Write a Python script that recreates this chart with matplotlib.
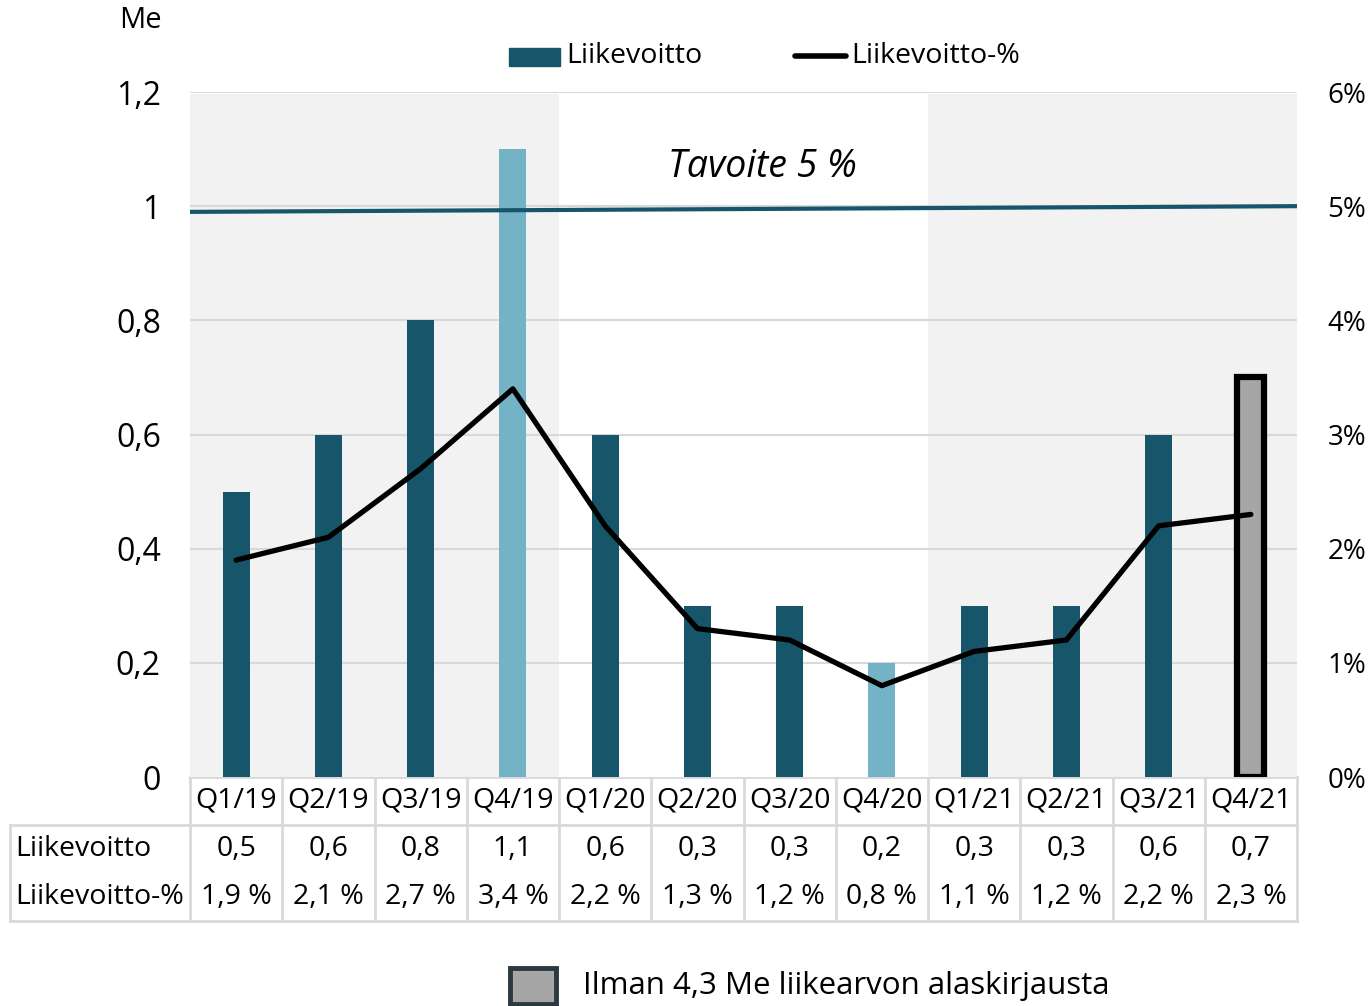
import matplotlib
matplotlib.use("Agg")
import matplotlib.pyplot as plt
from matplotlib.lines import Line2D
from matplotlib.patches import Rectangle
from matplotlib.transforms import blended_transform_factory

plt.rcParams["font.family"] = ["Open Sans", "DejaVu Sans"]

# ---- data --------------------------------------------------------------
quarters = ["Q1/19", "Q2/19", "Q3/19", "Q4/19", "Q1/20", "Q2/20",
            "Q3/20", "Q4/20", "Q1/21", "Q2/21", "Q3/21", "Q4/21"]
ebit = [0.5, 0.6, 0.8, 1.1, 0.6, 0.3, 0.3, 0.2, 0.3, 0.3, 0.6, 0.7]
ebit_pct = [1.9, 2.1, 2.7, 3.4, 2.2, 1.3, 1.2, 0.8, 1.1, 1.2, 2.2, 2.3]
ebit_txt = ["0,5", "0,6", "0,8", "1,1", "0,6", "0,3", "0,3", "0,2", "0,3", "0,3", "0,6", "0,7"]
pct_txt = ["1,9 %", "2,1 %", "2,7 %", "3,4 %", "2,2 %", "1,3 %", "1,2 %", "0,8 %",
           "1,1 %", "1,2 %", "2,2 %", "2,3 %"]
target_pct = [4.95, 5.0]          # target line, start and end (right axis)
left_ticks = ["0", "0,2", "0,4", "0,6", "0,8", "1", "1,2"]
right_ticks = ["0%", "1%", "2%", "3%", "4%", "5%", "6%"]

DARK = "#17566a"
LIGHT = "#74b3c6"
GREY = "#a6a6a6"
BAND = "#f2f2f2"
GRID = "#d9d9d9"

W, H = 1370, 1006
fig = plt.figure(figsize=(W / 100, H / 100), dpi=100)


def fx(px):
    return px / W


def fy(py):
    return 1 - py / H


ax = fig.add_axes([fx(190), fy(777), fx(1297) - fx(190), fy(92) - fy(777)])
n = len(quarters)
x = list(range(n))
ax.set_xlim(-0.5, n - 0.5)
ax.set_ylim(0, 1.2)
scale = 1.2 / 6  # percent -> Me axis

# shaded year bands
ax.axvspan(-0.5, 3.5, ymin=0, ymax=0.997, color=BAND, lw=0, zorder=0)
ax.axvspan(7.5, 11.5, ymin=0, ymax=0.997, color=BAND, lw=0, zorder=0)

for v in [0.2, 0.4, 0.6, 0.8, 1.0, 1.2]:
    ax.axhline(v, color=GRID, lw=1.5, zorder=1)

colors = [DARK] * n
colors[3] = LIGHT
colors[7] = LIGHT
ax.bar(x[:-1], ebit[:-1], width=0.29, color=colors[:-1], zorder=2)
ax.bar(x[-1], ebit[-1], width=0.29, color=GREY, edgecolor="black", lw=4.5, zorder=2)

ax.plot(x, [p * scale for p in ebit_pct], color="black", lw=3.8, zorder=4,
        solid_capstyle="round")
ax.plot([-0.5, n - 0.5], [t * scale for t in target_pct], color=DARK, lw=3, zorder=3)
ax.text(5.7, 1.068, "Tavoite 5 %", ha="center", va="center", fontsize=27, style="italic")

for s in ax.spines.values():
    s.set_visible(False)
ax.set_xticks([])
ax.set_yticks([0, 0.2, 0.4, 0.6, 0.8, 1.0, 1.2])
ax.set_yticklabels(left_ticks, fontsize=23)
ax.tick_params(axis="y", length=0, pad=21)

ax2 = ax.twinx()
ax2.set_ylim(0, 6)
ax2.set_yticks(range(7))
ax2.set_yticklabels(right_ticks, fontsize=20)
ax2.tick_params(axis="y", length=0, pad=22)
for s in ax2.spines.values():
    s.set_visible(False)

fig.text(fx(140), fy(20), "Me", ha="center", va="center", fontsize=21)

# ---- table under the chart --------------------------------------------
tr = blended_transform_factory(ax.transData, fig.transFigure)
col_w = (1297 - 190) / n
line_kw = dict(color=GRID, lw=2, transform=fig.transFigure, zorder=0)
fig.add_artist(Line2D([fx(190), fx(1297)], [fy(777), fy(777)], **line_kw))
fig.add_artist(Line2D([fx(10), fx(1297)], [fy(825), fy(825)], **line_kw))
fig.add_artist(Line2D([fx(10), fx(1297)], [fy(921), fy(921)], **line_kw))
fig.add_artist(Line2D([fx(10), fx(10)], [fy(825), fy(921)], **line_kw))
for i in range(n + 1):
    xp = 190 + i * col_w
    fig.add_artist(Line2D([fx(xp), fx(xp)], [fy(777), fy(921)], **line_kw))

TS = 20.5
for i in range(n):
    fig.text(i, fy(801), quarters[i], transform=tr, ha="center", va="center", fontsize=TS)
    fig.text(i, fy(849), ebit_txt[i], transform=tr, ha="center", va="center", fontsize=TS)
    fig.text(i, fy(897), pct_txt[i], transform=tr, ha="center", va="center", fontsize=TS)
fig.text(fx(15), fy(849), "Liikevoitto", ha="left", va="center", fontsize=TS)
fig.text(fx(15), fy(897), "Liikevoitto-%", ha="left", va="center", fontsize=TS)

# ---- legends -----------------------------------------------------------
fig.add_artist(Rectangle((fx(509), fy(66)), fx(560) - fx(509), fy(48) - fy(66),
                         transform=fig.transFigure, color=DARK))
fig.text(fx(566), fy(56), "Liikevoitto", ha="left", va="center", fontsize=20.5)
fig.add_artist(Line2D([fx(795), fx(846)], [fy(56), fy(56)], color="black", lw=4,
                      solid_capstyle="round", transform=fig.transFigure))
fig.text(fx(851), fy(56), "Liikevoitto-%", ha="left", va="center", fontsize=20.5)

fig.add_artist(Rectangle((fx(510), fy(1004)), fx(556) - fx(510), fy(968) - fy(1004),
                         transform=fig.transFigure, facecolor=GREY, edgecolor="#2b3a40", lw=3.5))
fig.text(fx(583), fy(986), "Ilman 4,3 Me liikearvon alaskirjausta", ha="left", va="center",
         fontsize=22.5)

fig.savefig("out.png", dpi=100)
